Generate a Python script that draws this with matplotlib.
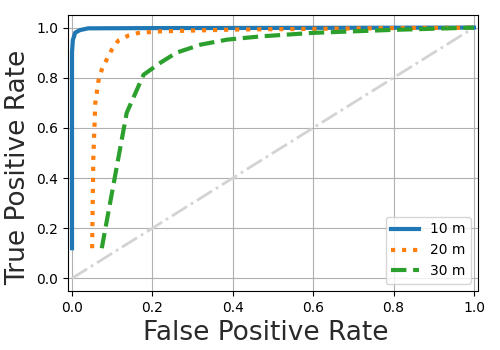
import numpy as np
import matplotlib.pyplot as plt

# curvas ROC
fpr_10 = [0.0, 0.0, 0.0, 0.002, 0.008, 0.02, 0.04, 0.2, 0.6, 1.0]
tpr_10 = [0.12, 0.6, 0.9, 0.95, 0.98, 0.99, 0.997, 0.998, 0.999, 1.0]

fpr_20 = [0.05, 0.053, 0.058, 0.066, 0.074, 0.086, 0.099, 0.115, 0.14, 0.166, 0.22, 0.4, 0.6, 0.8, 1.0]
tpr_20 = [0.12, 0.48, 0.7, 0.79, 0.832, 0.872, 0.912, 0.948, 0.968, 0.979, 0.985, 0.992, 0.995, 0.998, 1.0]

fpr_30 = [0.074, 0.136, 0.178, 0.22, 0.26, 0.32, 0.386, 0.47, 0.6, 0.8, 1.0]
tpr_30 = [0.12, 0.66, 0.812, 0.86, 0.9, 0.932, 0.952, 0.965, 0.979, 0.991, 1.0]

etiquetas = ['10 m', '20 m', '30 m']

fig = plt.figure(figsize=(5, 3.5), dpi=100)
ax = fig.add_axes([0.136, 0.169, 0.82, 0.788])

ax.plot([0, 1], [0, 1], color='lightgray', linestyle='-.', linewidth=2)
ax.plot(fpr_10, tpr_10, color='tab:blue', linestyle='-', linewidth=3, label=etiquetas[0])
ax.plot(fpr_20, tpr_20, color='tab:orange', linestyle=':', linewidth=3, label=etiquetas[1])
ax.plot(fpr_30, tpr_30, color='tab:green', linestyle='--', linewidth=3, label=etiquetas[2])

ax.set_xlim(-0.01, 1.01)
ax.set_ylim(-0.05, 1.05)
ax.set_xticks(np.arange(0, 1.01, 0.2))
ax.set_yticks(np.arange(0, 1.01, 0.2))
ax.grid(True, color='#b0b0b0')
ax.set_axisbelow(True)
ax.set_xlabel('False Positive Rate', fontsize=19, color='#2a2a2a')
ax.set_ylabel('True Positive Rate', fontsize=19, color='#2a2a2a')
# las etiquetas en el original no estan centradas
ax.xaxis.label.set_x(0.483)
ax.yaxis.label.set_y(0.449)
ax.legend(loc='lower right')

plt.savefig('out.png', dpi=100)
